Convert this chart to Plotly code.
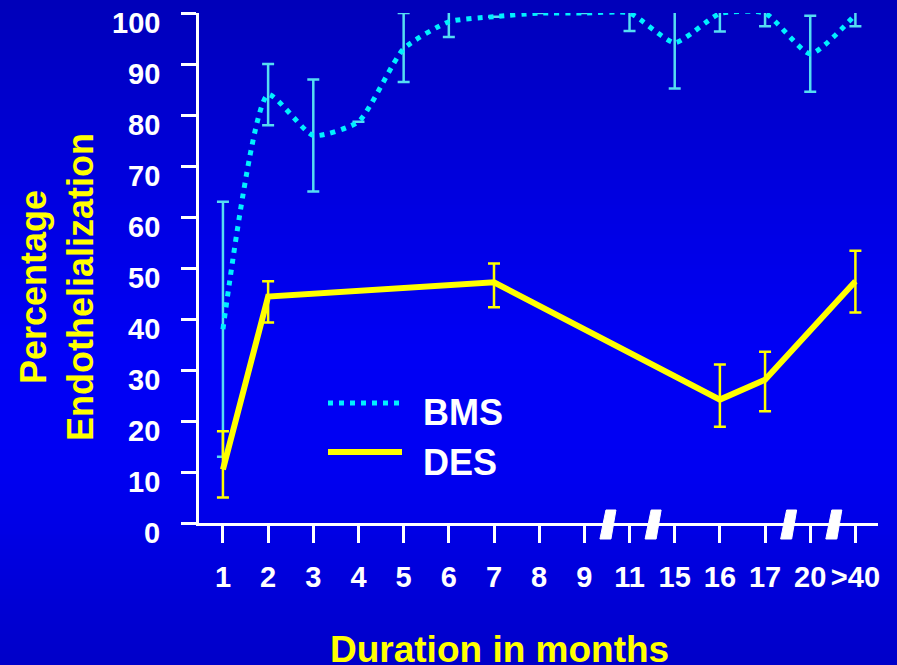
import plotly.graph_objects as go

# ---- data ----
categories = ["1", "2", "3", "4", "5", "6", "7", "8", "9", "11", "15", "16", "17", "20", ">40"]
cat_idx = list(range(len(categories)))

bms_values = [38, 84, 76, 78.7, 93, 98.3, 99.3, 100, 100, 100, 94.2, 99.9, 100, 92, 99.7]
bms_err_plus = [25, 6, 11, None, 7, 2, None, None, None, 3.5, 7, 3.5, 2.6, 7.5, 2.8]
bms_err_minus = [25, 6, 11, None, 6.5, 3, None, None, None, 3.5, 9, 3.5, 2.6, 7.4, 2.3]

des_idx = [0, 1, 6, 11, 12, 14]
des_values = [10.5, 44.4, 47.2, 24.2, 28.1, 47.4]
des_err_plus = [7.5, 3, 3.7, 6.9, 5.5, 6]
des_err_minus = [5.5, 5.1, 4.9, 5.3, 6.2, 6.1]

y_ticks = list(range(0, 101, 10))
y_tick_labels = [str(v) for v in y_ticks]
break_positions = [8.5, 9.5, 12.5, 13.5]

W, H = 897, 665
L, R, T, B = 199, 878, 13, 523
FONT = "Liberation Sans, Arial, sans-serif"

fig = go.Figure()

fig.add_trace(go.Scatter(
    x=cat_idx, y=bms_values, mode="lines", name="BMS",
    line=dict(color="#00F0FF", width=5, dash="5px,6px", shape="spline", smoothing=0.55),
    error_y=dict(type="data", symmetric=False, array=bms_err_plus, arrayminus=bms_err_minus,
                 color="#55DDF2", thickness=2.5, width=6),
    cliponaxis=False, showlegend=False,
))
fig.add_trace(go.Scatter(
    x=des_idx, y=des_values, mode="lines", name="DES",
    line=dict(color="#FFFF00", width=6),
    error_y=dict(type="data", symmetric=False, array=des_err_plus, arrayminus=des_err_minus,
                 color="#FFFF00", thickness=2.5, width=6),
    cliponaxis=False, showlegend=False,
))

shapes = []
# background gradient
def blue_at(y):
    pts = [(0, 185), (200, 225), (350, 245), (470, 242), (665, 200)]
    for (y0, b0), (y1, b1) in zip(pts[:-1], pts[1:]):
        if y0 <= y <= y1:
            return b0 + (b1 - b0) * (y - y0) / (y1 - y0)
    return pts[-1][1]

def px2px(x):
    return (x - L) / (R - L)

def py2py(y):
    return (B - y) / (B - T)

step = 5
for y in range(0, H, step):
    b = int(round(blue_at(y + step / 2)))
    shapes.append(dict(type="rect", xref="paper", yref="paper", layer="below",
                       x0=px2px(-2), x1=px2px(W + 2), y0=py2py(y + step + 0.5), y1=py2py(y - 0.5),
                       fillcolor=f"rgb(0,0,{b})", line=dict(width=0)))

# axis break marks
for bp in break_positions:
    shapes.append(dict(type="path", xref="x", yref="paper", xsizemode="pixel", ysizemode="pixel",
                       xanchor=bp, yanchor=0, path="M -7,-16 L 4,-16 L 9,13 L -1,13 Z",
                       fillcolor="white", line=dict(color="white", width=1), layer="above"))

# manual legend lines
shapes.append(dict(type="line", xref="paper", yref="paper", x0=px2px(328), x1=px2px(402),
                   y0=py2py(403), y1=py2py(403), line=dict(color="#00F0FF", width=5, dash="5px,6px")))
shapes.append(dict(type="line", xref="paper", yref="paper", x0=px2px(328), x1=px2px(402),
                   y0=py2py(452), y1=py2py(452), line=dict(color="#FFFF00", width=6)))

annotations = [
    dict(text="BMS", xref="paper", yref="paper", x=px2px(421), y=py2py(412), xanchor="left",
         yanchor="middle", showarrow=False, font=dict(family=FONT, size=36, color="white", weight="bold")),
    dict(text="DES", xref="paper", yref="paper", x=px2px(421), y=py2py(462), xanchor="left",
         yanchor="middle", showarrow=False, font=dict(family=FONT, size=36, color="white", weight="bold")),
    dict(text="Percentage<br>Endothelialization", xref="paper", yref="paper",
         x=px2px(57), y=py2py(287), xanchor="center", yanchor="middle", textangle=-90,
         showarrow=False, font=dict(family=FONT, size=36, color="#FFFF00", weight="bold")),
    dict(text="Duration in months", xref="paper", yref="paper",
         x=px2px(499), y=py2py(649), xanchor="center", yanchor="middle",
         showarrow=False, font=dict(family=FONT, size=37, color="#FFFF00", weight="bold")),
]
# y tick labels (sit slightly below their ticks, as in the original slide)
for v, lab in zip(y_ticks, y_tick_labels):
    annotations.append(dict(text=lab, xref="paper", yref="y", x=0, y=v, xshift=-37, yshift=-10,
                            xanchor="right", yanchor="middle", showarrow=False,
                            font=dict(family=FONT, size=29, color="white", weight="bold")))

fig.update_layout(
    width=W, height=H,
    margin=dict(l=L, r=W - R, t=T, b=H - B, autoexpand=False),
    paper_bgcolor="rgb(0,0,220)", plot_bgcolor="rgba(0,0,0,0)",
    shapes=shapes, annotations=annotations,
    xaxis=dict(range=[-0.53, 14.5], tickmode="array", tickvals=cat_idx, ticktext=categories,
               showgrid=False, zeroline=False, showline=True, linecolor="white", linewidth=3,
               ticks="outside", ticklen=17, tickwidth=3, tickcolor="white", automargin=False,
               ticklabelstandoff=9, ticklabeloverflow="allow",
               tickfont=dict(family=FONT, size=29, color="white", weight="bold")),
    yaxis=dict(range=[0, 100.02], tickmode="array", tickvals=y_ticks, showticklabels=False,
               showgrid=False, zeroline=False, showline=True, linecolor="white", linewidth=3,
               ticks="outside", ticklen=15, tickwidth=3, tickcolor="white", automargin=False),
)

fig.write_html("out.html", config={"displayModeBar": False},
               post_script="document.body.style.margin='0';document.body.style.background='rgb(0,0,200)';document.body.style.overflow='hidden';")
